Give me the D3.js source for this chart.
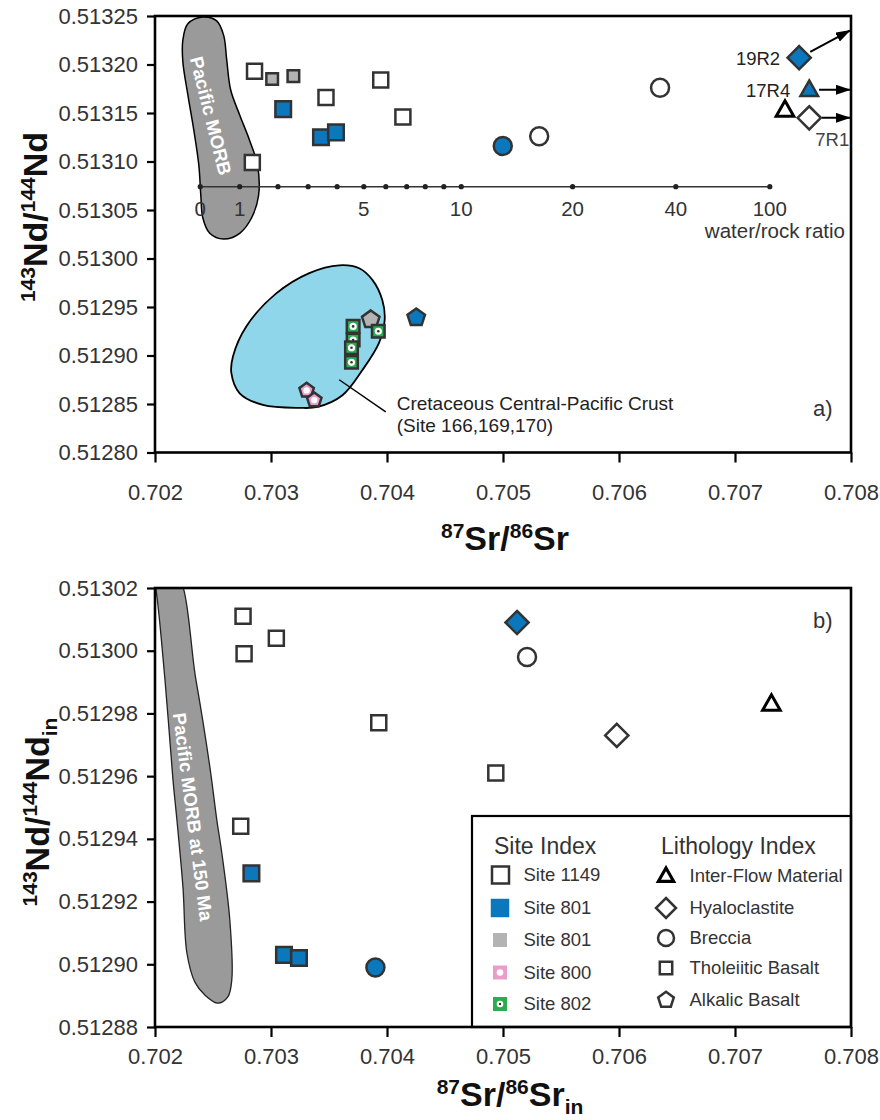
<!DOCTYPE html>
<html>
<head>
<meta charset="utf-8">
<script src="https://cdn.jsdelivr.net/npm/d3@7"></script>
<style>
  html, body { margin: 0; padding: 0; background: #fff; }
  svg { display: block; }
  svg text { font-family: "Liberation Sans", Arial, Helvetica, sans-serif; }
</style>
</head>
<body>
<svg id="chart" width="880" height="1120"></svg>
<script>
// ---------------- data ----------------
const srDomain = [0.702, 0.708];
const srTicks = [0.702, 0.703, 0.704, 0.705, 0.706, 0.707, 0.708];
const ndDomainA = [0.51280, 0.51325];
const ndTicksA = [0.51280, 0.51285, 0.51290, 0.51295, 0.51300, 0.51305, 0.51310, 0.51315, 0.51320, 0.51325];
const ndDomainB = [0.51288, 0.51302];
const ndTicksB = [0.51288, 0.51290, 0.51292, 0.51294, 0.51296, 0.51298, 0.51300, 0.51302];

// site keys: 1149, 801 (blue), 801g (grey), 800, 802
// lithology keys: ifm, hyalo, breccia, thol, alk
const samplesA = [
  { sr: 0.702858, nd: 0.513193, site: "1149", lith: "thol" },
  { sr: 0.703946, nd: 0.513184, site: "1149", lith: "thol" },
  { sr: 0.703474, nd: 0.513166, site: "1149", lith: "thol" },
  { sr: 0.704137, nd: 0.513146, site: "1149", lith: "thol" },
  { sr: 0.702839, nd: 0.513099, site: "1149", lith: "thol" },
  { sr: 0.703010, nd: 0.513185, site: "801g", lith: "thol" },
  { sr: 0.703193, nd: 0.513188, site: "801g", lith: "thol" },
  { sr: 0.703105, nd: 0.513154, site: "801", lith: "thol" },
  { sr: 0.703431, nd: 0.513125, site: "801", lith: "thol" },
  { sr: 0.703560, nd: 0.513130, site: "801", lith: "thol" },
  { sr: 0.704998, nd: 0.513116, site: "801", lith: "breccia" },
  { sr: 0.705312, nd: 0.513126, site: "1149", lith: "breccia" },
  { sr: 0.706354, nd: 0.513176, site: "1149", lith: "breccia" },
  { sr: 0.707553, nd: 0.513207, site: "801", lith: "hyalo", label: "19R2" },
  { sr: 0.707640, nd: 0.513174, site: "801", lith: "ifm", label: "17R4" },
  { sr: 0.707431, nd: 0.513153, site: "1149", lith: "ifm" },
  { sr: 0.707640, nd: 0.513145, site: "1149", lith: "hyalo", label: "7R1" },
  { sr: 0.703860, nd: 0.512937, site: "801g", lith: "alk" },
  { sr: 0.703708, nd: 0.512916, site: "802", lith: "thol" },
  { sr: 0.703708, nd: 0.512930, site: "802", lith: "thol" },
  { sr: 0.703694, nd: 0.512908, site: "802", lith: "thol" },
  { sr: 0.703694, nd: 0.512893, site: "802", lith: "thol" },
  { sr: 0.703925, nd: 0.512925, site: "802", lith: "thol" },
  { sr: 0.704252, nd: 0.512939, site: "801", lith: "alk" },
  { sr: 0.703307, nd: 0.512864, site: "800", lith: "alk" },
  { sr: 0.703373, nd: 0.512854, site: "800", lith: "alk" }
];

// samples whose values run off the right edge
const arrowTips = [
  { label: "19R2", sr: 0.70799, nd: 0.513235 },
  { label: "17R4", sr: 0.70799, nd: 0.513174 },
  { label: "7R1",  sr: 0.70799, nd: 0.513145 }
];

// seawater-alteration trajectory: water/rock ratio vs 87Sr/86Sr
const wrRatios = [0, 1, 2, 3, 4, 5, 6, 7, 8, 9, 10, 20, 40, 100];
const wrSr = [0.70239, 0.70273, 0.70306, 0.70332, 0.70357, 0.70380, 0.70399,
              0.70417, 0.70433, 0.70449, 0.70464, 0.70560, 0.70649, 0.70730];
const wrLabelled = [0, 1, 5, 10, 20, 40, 100];
const wrNd = 0.513074;

const morbFieldA = [
  [0.702412, 0.513249], [0.702283, 0.513242], [0.702240, 0.513225], [0.702240, 0.513203],
  [0.702283, 0.513169], [0.702335, 0.513132], [0.702378, 0.513096], [0.702395, 0.513065],
  [0.702412, 0.513042], [0.702472, 0.513026], [0.702592, 0.513020], [0.702730, 0.513026],
  [0.702833, 0.513042], [0.702893, 0.513065], [0.702884, 0.513096], [0.702815, 0.513122],
  [0.702730, 0.513148], [0.702652, 0.513174], [0.702618, 0.513205], [0.702592, 0.513230],
  [0.702532, 0.513245]
];
const crustField = [
  [0.702658, 0.512882], [0.702730, 0.512861], [0.702930, 0.512849], [0.703245, 0.512846],
  [0.703402, 0.512847], [0.703616, 0.512859], [0.703788, 0.512885], [0.703931, 0.512913],
  [0.703980, 0.512937], [0.703960, 0.512957], [0.703874, 0.512978], [0.703760, 0.512990],
  [0.703588, 0.512993], [0.703330, 0.512985], [0.703045, 0.512964], [0.702787, 0.512930],
  [0.702672, 0.512899]
];
const crustLeader = [[0.703588, 0.512875], [0.703989, 0.512842]];

const samplesB = [
  { sr: 0.702759, nd: 0.513011, site: "1149", lith: "thol" },
  { sr: 0.703046, nd: 0.513004, site: "1149", lith: "thol" },
  { sr: 0.702768, nd: 0.512999, site: "1149", lith: "thol" },
  { sr: 0.703929, nd: 0.512977, site: "1149", lith: "thol" },
  { sr: 0.704938, nd: 0.512961, site: "1149", lith: "thol" },
  { sr: 0.702739, nd: 0.512944, site: "1149", lith: "thol" },
  { sr: 0.702831, nd: 0.512929, site: "801", lith: "thol" },
  { sr: 0.703112, nd: 0.512903, site: "801", lith: "thol" },
  { sr: 0.703241, nd: 0.512902, site: "801", lith: "thol" },
  { sr: 0.703900, nd: 0.512899, site: "801", lith: "breccia" },
  { sr: 0.705121, nd: 0.513009, site: "801", lith: "hyalo" },
  { sr: 0.705207, nd: 0.512998, site: "1149", lith: "breccia" },
  { sr: 0.705981, nd: 0.512973, site: "1149", lith: "hyalo" },
  { sr: 0.707314, nd: 0.512983, site: "1149", lith: "ifm" }
];

const morbFieldB = [
  [0.701974, 0.5130257], [0.702172, 0.5130257], [0.702353, 0.5129907], [0.702473, 0.5129629],
  [0.702533, 0.5129460], [0.702576, 0.5129355], [0.702645, 0.5129141], [0.702662, 0.5128950],
  [0.702628, 0.5128896], [0.702542, 0.5128876], [0.702430, 0.5128902], [0.702344, 0.5128943],
  [0.702275, 0.5129036], [0.702241, 0.5129246], [0.702189, 0.5129460], [0.702155, 0.5129588],
  [0.702086, 0.5129907], [0.702009, 0.5130194]
];

const siteLegend = [
  { site: "1149", text: "Site 1149" },
  { site: "801", text: "Site 801" },
  { site: "801g", text: "Site 801" },
  { site: "800", text: "Site 800" },
  { site: "802", text: "Site 802" }
];
const lithLegend = [
  { lith: "ifm", text: "Inter-Flow Material" },
  { lith: "hyalo", text: "Hyaloclastite" },
  { lith: "breccia", text: "Breccia" },
  { lith: "thol", text: "Tholeiitic Basalt" },
  { lith: "alk", text: "Alkalic Basalt" }
];

// ---------------- styling ----------------
const FONT = '"Liberation Sans", Arial, Helvetica, sans-serif';
const BLUE = "#0b77bd", GREY = "#b3b3b3", PINK = "#ea9dca", GREEN = "#2aad4f";
const CYAN = "#8fd6ea", MORB = "#9a9a9a", INK = "#333";
const siteFill = { "1149": "#fff", "801": BLUE, "801g": GREY, "800": PINK, "802": GREEN };
const lithShape = { ifm: "triangle", hyalo: "diamond", breccia: "circle", thol: "square", alk: "pentagon" };

function shapePath(kind, s) {
  if (kind === "square") return `M${-s},${-s}H${s}V${s}H${-s}Z`;
  if (kind === "diamond") return `M0,${-s}L${s},0L0,${s}L${-s},0Z`;
  if (kind === "circle") return `M${s},0A${s},${s} 0 1 1 ${-s},0A${s},${s} 0 1 1 ${s},0Z`;
  if (kind === "triangle") {
    const h = s * 1.75;
    return `M0,${-h * 0.6}L${s},${h * 0.4}L${-s},${h * 0.4}Z`;
  }
  // pentagon, apex up
  const pts = d3.range(5).map(k => {
    const a = -Math.PI / 2 + k * 2 * Math.PI / 5;
    return [s * Math.cos(a), s * Math.sin(a)];
  });
  return "M" + pts.map(p => p.join(",")).join("L") + "Z";
}

function markerSize(d) {
  if (d.lith === "thol") return d.site === "801g" ? 5.8 : d.site === "802" ? 6.3 : (d.site === "801" ? 7.8 : 7.5);
  if (d.lith === "breccia") return 9;
  if (d.lith === "hyalo") return 11.6;
  if (d.lith === "ifm") return 8.8;
  if (d.lith === "alk") return d.site === "800" ? 7.6 : 9.2;
  return 8;
}

function drawMarker(g, d, x, y) {
  const s = markerSize(d);
  const kind = lithShape[d.lith];
  const grp = g.append("g").attr("transform", `translate(${x},${y})`);
  const openTri = kind === "triangle" && d.site === "1149";
  grp.append("path")
    .attr("d", shapePath(kind, s))
    .attr("fill", siteFill[d.site])
    .attr("stroke", openTri ? "#000" : INK)
    .attr("stroke-width", openTri ? 3 : 2.5)
    .attr("stroke-linejoin", "miter");
  if (d.site === "800") {
    grp.append("circle").attr("r", 3.2).attr("fill", "#fff");
  }
  if (d.site === "802") {
    grp.append("circle").attr("r", 3.6).attr("fill", "#fff");
    grp.append("circle").attr("r", 1.3).attr("fill", INK);
  }
  return grp;
}

const svg = d3.select("#chart");
const defs = svg.append("defs");

defs.append("marker")
  .attr("id", "arrowhead")
  .attr("viewBox", "0 0 15 10")
  .attr("refX", 14).attr("refY", 5)
  .attr("markerWidth", 15).attr("markerHeight", 10)
  .attr("markerUnits", "userSpaceOnUse")
  .attr("orient", "auto")
  .append("path").attr("d", "M0,0L15,5L0,10Z").attr("fill", "#000");

function buildPanel(box, yDomain, yTicks, labelPad, id) {
  const x = d3.scaleLinear().domain(srDomain).range([box.left, box.right]);
  const y = d3.scaleLinear().domain(yDomain).range([box.bottom, box.top]);
  const g = svg.append("g");

  defs.append("clipPath").attr("id", id)
    .append("rect").attr("x", box.left).attr("y", box.top)
    .attr("width", box.right - box.left).attr("height", box.bottom - box.top);

  const yAxis = d3.axisLeft(y).tickValues(yTicks).tickFormat(d3.format(".5f"))
    .tickSize(8).tickSizeOuter(0).tickPadding(9);
  const xAxis = d3.axisBottom(x).tickValues(srTicks).tickFormat(d3.format(".3f"))
    .tickSize(10).tickSizeOuter(0).tickPadding(labelPad);

  const layers = {
    back: g.append("g").attr("clip-path", `url(#${id})`),
    front: g.append("g")
  };

  const ya = g.append("g").attr("transform", `translate(${box.left},0)`).call(yAxis);
  const xa = g.append("g").attr("transform", `translate(0,${box.bottom})`).call(xAxis);
  [ya, xa].forEach(a => {
    a.select(".domain").remove();
    a.selectAll(".tick line").attr("stroke", "#000").attr("stroke-width", 2.2);
    a.selectAll(".tick text").attr("fill", INK).attr("font-family", FONT).style("font-size", "22px");
  });
  // frame
  g.append("rect").attr("x", box.left).attr("y", box.top)
    .attr("width", box.right - box.left).attr("height", box.bottom - box.top)
    .attr("fill", "none").attr("stroke", "#000").attr("stroke-width", 2.6);

  return { x, y, g, layers, box };
}

const lineGen = (x, y) => d3.line().x(d => x(d[0])).y(d => y(d[1]));

// ================= panel a =================
const A = buildPanel({ left: 155, right: 851, top: 16, bottom: 452.5 }, ndDomainA, ndTicksA, 22, "clipA");
{
  const { x, y, layers, box } = A;
  const back = layers.back;

  back.append("path")
    .attr("d", lineGen(x, y).curve(d3.curveCatmullRomClosed.alpha(0.5))(morbFieldA))
    .attr("fill", MORB).attr("stroke", "#000").attr("stroke-width", 1.5);

  back.append("path")
    .attr("d", lineGen(x, y).curve(d3.curveCatmullRomClosed.alpha(0.5))(crustField))
    .attr("fill", CYAN).attr("stroke", "#000").attr("stroke-width", 1.8);

  back.append("path").attr("d", lineGen(x, y)(crustLeader))
    .attr("stroke", "#000").attr("stroke-width", 1.5).attr("fill", "none");

  const lx = x(crustLeader[1][0]) + 11, ly = y(crustLeader[1][1]);
  const ct = back.append("text").attr("x", lx).attr("y", ly - 1.5)
    .attr("fill", "#222").attr("font-family", FONT).style("font-size", "19px");
  ct.append("tspan").attr("x", lx).text("Cretaceous Central-Pacific Crust");
  ct.append("tspan").attr("x", lx).attr("dy", 22).text("(Site 166,169,170)");

  // water/rock ratio trajectory
  const wy = y(wrNd);
  back.append("line").attr("x1", x(wrSr[0])).attr("x2", x(wrSr[wrSr.length - 1]))
    .attr("y1", wy).attr("y2", wy).attr("stroke", INK).attr("stroke-width", 1.5);
  back.selectAll(".wrdot").data(wrSr).join("circle").attr("class", "wrdot")
    .attr("cx", d => x(d)).attr("cy", wy).attr("r", 2.6).attr("fill", "#222");
  back.selectAll(".wrlab").data(wrRatios.map((r, i) => ({ r, sr: wrSr[i] })).filter(d => wrLabelled.includes(d.r)))
    .join("text").attr("class", "wrlab")
    .attr("x", d => x(d.sr)).attr("y", wy + 29).attr("text-anchor", "middle")
    .attr("fill", INK).attr("font-family", FONT).style("font-size", "20.5px").text(d => d.r);
  back.append("text").attr("x", box.right - 6).attr("y", wy + 51).attr("text-anchor", "end")
    .attr("fill", INK).attr("font-family", FONT).style("font-size", "20.5px").text("water/rock ratio");

  // field label
  const mc = [0.702481, 0.513147];
  back.append("text")
    .attr("transform", `translate(${x(mc[0])},${y(mc[1])}) rotate(76)`)
    .attr("text-anchor", "middle").attr("dy", "0.35em")
    .attr("fill", "#fff").attr("font-family", FONT)
    .style("font-weight", "bold").style("font-size", "18.5px")
    .text("Pacific MORB");

  // arrows for off-scale samples
  arrowTips.forEach(t => {
    const s = samplesA.find(d => d.label === t.label);
    const x0 = x(s.sr), y0 = y(s.nd), x1 = x(t.sr), y1 = y(t.nd);
    const len = Math.hypot(x1 - x0, y1 - y0);
    const off = markerSize(s) + 1;
    back.append("line")
      .attr("x1", x0 + (x1 - x0) / len * off).attr("y1", y0 + (y1 - y0) / len * off)
      .attr("x2", x1).attr("y2", y1)
      .attr("stroke", "#000").attr("stroke-width", 2)
      .attr("marker-end", "url(#arrowhead)");
  });

  samplesA.forEach(d => drawMarker(back, d, x(d.sr), y(d.nd)));

  // sample labels
  samplesA.filter(d => d.label).forEach(d => {
    const px = x(d.sr), py = y(d.nd);
    const t = back.append("text").attr("fill", "#222").attr("font-family", FONT)
      .style("font-size", "18.5px").text(d.label);
    if (d.label === "7R1") t.attr("x", px + 6).attr("y", py + 28).attr("fill", "#444");
    else t.attr("x", px - 19).attr("y", py + 7).attr("text-anchor", "end");
  });

  back.append("text").attr("x", 813).attr("y", 416).attr("fill", INK)
    .attr("font-family", FONT).style("font-size", "22px").text("a)");
}

// ================= panel b =================
const B = buildPanel({ left: 155, right: 851, top: 588, bottom: 1027 }, ndDomainB, ndTicksB, 11, "clipB");
{
  const { x, y, layers, box } = B;
  const back = layers.back;

  back.append("path")
    .attr("d", lineGen(x, y).curve(d3.curveCatmullRomClosed.alpha(0.5))(morbFieldB))
    .attr("fill", MORB).attr("stroke", "#222").attr("stroke-width", 1.3);

  const mc = [0.702327, 0.512947];
  back.append("text")
    .attr("transform", `translate(${x(mc[0])},${y(mc[1])}) rotate(82.5)`)
    .attr("text-anchor", "middle").attr("dy", "0.35em")
    .attr("fill", "#fff").attr("font-family", FONT)
    .style("font-weight", "bold").style("font-size", "18.5px")
    .text("Pacific MORB at 150 Ma");

  samplesB.forEach(d => drawMarker(back, d, x(d.sr), y(d.nd)));

  back.append("text").attr("x", 813).attr("y", 628).attr("fill", INK)
    .attr("font-family", FONT).style("font-size", "22px").text("b)");

  // legend
  const lg = layers.front;
  const L = { left: 472, top: 816, right: box.right, bottom: box.bottom };
  lg.append("rect").attr("x", L.left).attr("y", L.top)
    .attr("width", L.right - L.left).attr("height", L.bottom - L.top)
    .attr("fill", "#fff").attr("stroke", "#000").attr("stroke-width", 2.2);

  lg.append("text").attr("x", 494).attr("y", 854).attr("fill", INK)
    .attr("font-family", FONT).style("font-size", "23px").text("Site Index");
  lg.append("text").attr("x", 661).attr("y", 854).attr("fill", INK)
    .attr("font-family", FONT).style("font-size", "23px").text("Lithology Index");

  const siteRowY = [875, 908, 940, 972.5, 1004];
  siteLegend.forEach((d, i) => {
    const cy = siteRowY[i];
    if (d.site === "1149") {
      lg.append("rect").attr("x", 500.5 - 8.5).attr("y", cy - 8.5).attr("width", 17).attr("height", 17)
        .attr("fill", "#fff").attr("stroke", INK).attr("stroke-width", 2.5);
    } else {
      const s = d.site === "801" ? 18.5 : 14;
      lg.append("rect").attr("x", 500 - s / 2).attr("y", cy - s / 2).attr("width", s).attr("height", s)
        .attr("fill", siteFill[d.site]);
      if (d.site === "800" || d.site === "802") {
        lg.append("circle").attr("cx", 500).attr("cy", cy).attr("r", 3.3).attr("fill", "#fff");
      }
      if (d.site === "802") {
        lg.append("circle").attr("cx", 500).attr("cy", cy).attr("r", 1.2).attr("fill", INK);
      }
    }
    lg.append("text").attr("x", 523.5).attr("y", cy).attr("dy", "0.35em")
      .attr("fill", INK).attr("font-family", FONT).style("font-size", "18.5px").text(d.text);
  });

  const lithRowY = [876, 908, 938, 968, 1000];
  const lithIconSize = { ifm: 7.6, hyalo: 10, breccia: 8, thol: 6.2, alk: 8.2 };
  lithLegend.forEach((d, i) => {
    const cy = lithRowY[i];
    const kind = lithShape[d.lith];
    lg.append("path").attr("transform", `translate(666,${cy})`)
      .attr("d", shapePath(kind, lithIconSize[d.lith]))
      .attr("fill", "#fff")
      .attr("stroke", d.lith === "ifm" ? "#000" : INK)
      .attr("stroke-width", d.lith === "ifm" ? 3.2 : 2.5);
    lg.append("text").attr("x", 689.5).attr("y", cy).attr("dy", "0.35em")
      .attr("fill", INK).attr("font-family", FONT).style("font-size", "18.5px").text(d.text);
  });
}

// ---------------- axis titles ----------------
function isoTitle(parent, parts, attrs) {
  const t = parent.append("text").attr("text-anchor", "middle").attr("font-family", FONT)
    .style("font-weight", "bold").style("font-size", "34px").attr("fill", "#111");
  Object.entries(attrs).forEach(([k, v]) => t.attr(k, v));
  let shift = 0;
  parts.forEach(p => {
    const target = p.kind === "sup" ? -12 : p.kind === "sub" ? 8 : 0;
    t.append("tspan").attr("dy", target - shift)
      .style("font-size", p.kind ? "21px" : "34px").text(p.text);
    shift = target;
  });
  return t;
}

const ndTitle = [{ kind: "sup", text: "143" }, { text: "Nd/" }, { kind: "sup", text: "144" }, { text: "Nd" }];
const srTitle = [{ kind: "sup", text: "87" }, { text: "Sr/" }, { kind: "sup", text: "86" }, { text: "Sr" }];

isoTitle(svg, ndTitle, { transform: "translate(47,217) rotate(-90)" });
isoTitle(svg, srTitle, { x: 505, y: 550 });
isoTitle(svg, ndTitle.concat([{ kind: "sub", text: "in" }]), { transform: "translate(49,812) rotate(-90)" });
isoTitle(svg, srTitle.concat([{ kind: "sub", text: "in" }]), { x: 510, y: 1106 });
</script>
</body>
</html>
